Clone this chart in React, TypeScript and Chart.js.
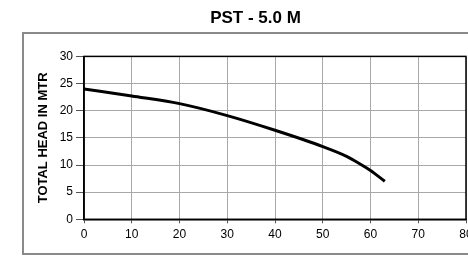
import React, { useEffect, useRef } from "react";
import { Chart, registerables } from "chart.js";

Chart.register(...registerables);

const flowValues = [0, 10, 20, 30, 40, 50, 55, 58, 60, 63];
const headValues = [24, 22.7, 21.3, 19.1, 16.4, 13.4, 11.6, 10.1, 9.0, 7.0];
const chartTitle = "PST - 5.0 M";
const yAxisTitle = "TOTAL HEAD IN MTR";

const FONT = "'Liberation Sans', Arial, sans-serif";

const framePlugin = {
  id: "frame",
  beforeDraw(chart: any) {
    const ctx = chart.ctx;
    ctx.save();
    ctx.fillStyle = "#ffffff";
    ctx.fillRect(0, 0, chart.width, chart.height);
    ctx.strokeStyle = "#8a8a8a";
    ctx.lineWidth = 2;
    ctx.strokeRect(23, 33, 470, 221);
    ctx.restore();
  },
  afterDatasetsDraw(chart: any) {
    const { left, top, right, bottom } = chart.chartArea;
    const ctx = chart.ctx;
    ctx.save();
    ctx.strokeStyle = "#000000";
    ctx.lineWidth = 1.5;
    ctx.strokeRect(left, top, right - left, bottom - top);
    ctx.restore();
  },
};

export default function App() {
  const ref = useRef<HTMLCanvasElement>(null);
  useEffect(() => {
    document.body.style.margin = "0";
    const points = flowValues.map((x, i) => ({ x, y: headValues[i] }));
    const chart = new Chart(ref.current as HTMLCanvasElement, {
      type: "line",
      data: {
        datasets: [
          {
            data: points,
            borderColor: "#000000",
            borderWidth: 3,
            pointRadius: 0,
            cubicInterpolationMode: "monotone",
            fill: false,
          },
        ],
      },
      options: {
        animation: false,
        responsive: false,
        maintainAspectRatio: false,
        layout: { padding: { left: 45, right: 2, top: 0, bottom: 17.3 } },
        plugins: {
          legend: { display: false },
          tooltip: { enabled: false },
          title: {
            display: true,
            text: chartTitle,
            color: "#000000",
            font: { family: FONT, size: 17, weight: "bold" },
            padding: { top: 8, bottom: 28 },
          },
        },
        scales: {
          x: {
            type: "linear",
            min: 0,
            max: 80,
            afterFit(scale: any) {
              scale.paddingLeft = 0;
              scale.paddingRight = 0;
            },
            ticks: {
              stepSize: 10,
              color: "#000000",
              font: { family: FONT, size: 12 },
              padding: 4,
              maxRotation: 0,
            },
            grid: { color: "#a8a8a8", tickColor: "#555555", tickLength: 4 },
            border: { color: "#000000", width: 1.5 },
          },
          y: {
            min: 0,
            max: 30,
            afterFit(scale: any) {
              scale.paddingTop = 0;
              scale.paddingBottom = 0;
              scale.width = 39;
            },
            ticks: {
              stepSize: 5,
              color: "#000000",
              font: { family: FONT, size: 12 },
              padding: 3,
            },
            grid: { color: "#a8a8a8", tickColor: "#555555", tickLength: 8 },
            border: { color: "#000000", width: 1.5 },
            title: {
              display: true,
              text: yAxisTitle,
              color: "#000000",
              font: { family: FONT, size: 13, weight: "bold" },
              padding: { top: -9, bottom: 0 },
            },
          },
        },
      },
      plugins: [framePlugin],
    });
    return () => chart.destroy();
  }, []);
  return <canvas ref={ref} width={468} height={263} style={{ display: "block" }} />;
}
